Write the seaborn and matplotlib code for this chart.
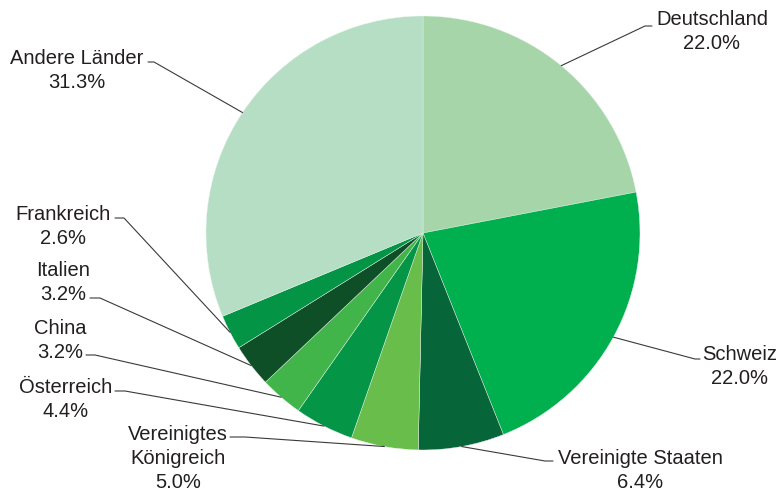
import matplotlib.pyplot as plt
import numpy as np
import seaborn as sns

sns.set_theme(style="white")
plt.rcParams['font.family'] = ['Liberation Sans', 'DejaVu Sans']

# Data (clockwise from 12 o'clock)
countries = ['Deutschland', 'Schweiz', 'Vereinigte Staaten', 'Vereinigtes\nKönigreich',
             'Österreich', 'China', 'Italien', 'Frankreich', 'Andere Länder']
shares = [22.0, 22.0, 6.4, 5.0, 4.4, 3.2, 3.2, 2.6, 31.3]
colors = ['#a7d5aa', '#00b04f', '#07653a', '#69bd4a', '#059547',
          '#42b54a', '#0e4f28', '#039446', '#b5dec4']

# Label layout in pixel coords (x centre of text, y of first line, elbow x, elbow y, end x)
label_pos = {
    'Deutschland': (712, 18, 645, 26, 652),
    'Schweiz': (740, 353, 695, 359, 700),
    'Vereinigte Staaten': (640, 457, 545, 461, 553),
    'Vereinigtes\nKönigreich': (178, 433, 245, 437, 230),
    'Österreich': (66, 386, 125, 391, 115),
    'China': (60, 327, 95, 355, 86),
    'Italien': (63, 269, 100, 298, 90),
    'Frankreich': (63, 213, 124, 218, 115),
    'Andere Länder': (77, 57, 154, 62, 148),
}

W, H = 781, 493
cx, cy, r = 423, 233, 217

fig = plt.figure(figsize=(W / 100, H / 100), dpi=100)
ax = fig.add_axes([0, 0, 1, 1])
ax.pie(shares, colors=colors, startangle=90, counterclock=False,
       center=(cx, H - cy), radius=r,
       wedgeprops=dict(linewidth=0.3, edgecolor='#e8f3ea'))
ax.set_xlim(0, W)
ax.set_ylim(0, H)
ax.set_aspect('equal')
ax.axis('off')

text_color = '#231f20'
total = sum(shares)
cum = 0.0
for name, val in zip(countries, shares):
    mid = (cum + val / 2) / total * 2 * np.pi
    cum += val
    ex = cx + r * np.sin(mid)
    ey = cy - r * np.cos(mid)
    tx, ty, bx, by, endx = label_pos[name]
    ax.plot([ex, bx, endx], [H - ey, H - by, H - by], color='#3a3a3a', lw=0.8)
    label = f"{name}\n{val:.1f}%"
    ax.text(tx, H - ty + 8, label, ha='center', va='top', fontsize=14.5,
            color=text_color, linespacing=1.34)

fig.savefig('out.png', dpi=100)
